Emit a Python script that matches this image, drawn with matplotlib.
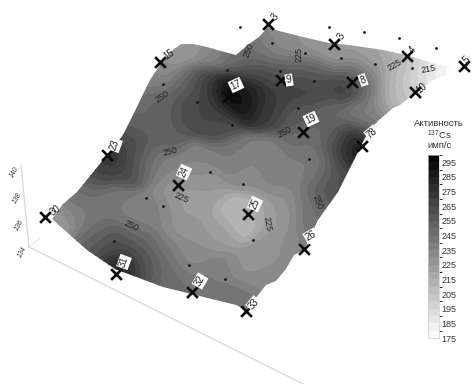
import numpy as np
import matplotlib
matplotlib.use('Agg')
import matplotlib.pyplot as plt
from matplotlib.cm import ScalarMappable
from matplotlib.colors import LinearSegmentedColormap, BoundaryNorm
from matplotlib.patches import Polygon

plt.rcParams['font.family'] = ['Liberation Sans', 'DejaVu Sans']
plt.rcParams['mathtext.fontset'] = 'custom'
plt.rcParams['mathtext.rm'] = 'Liberation Sans'
plt.rcParams['mathtext.default'] = 'rm'

# map outline
edge_x = [181, 193, 207, 217, 236, 249, 259, 268, 279, 303, 329, 349, 383, 406, 423, 432, 450,
          450, 433, 413, 400, 393, 379, 369, 359, 338, 318, 304, 294, 286, 276, 266, 246, 236,
          163, 115, 87, 52, 63, 77, 103, 123, 133, 150, 160, 170]
edge_y = [44, 44, 47, 50, 55, 44, 37, 27, 31, 37, 43, 45, 50, 55, 60, 63, 67,
          73, 80, 95, 105, 108, 120, 130, 150, 192, 220, 250, 255, 269, 281, 285, 310, 305,
          287, 269, 250, 219, 204, 192, 160, 135, 115, 80, 65, 52]
edge_v = [223, 225, 232, 238, 249, 245, 238, 232, 232, 228, 225, 223, 219, 212, 193, 186, 176,
          176, 186, 200, 205, 212, 238, 245, 292, 265, 245, 238, 232, 232, 232, 232, 245, 245,
          249, 285, 249, 219, 238, 245, 272, 254, 249, 238, 232, 225]

# activity read inside the map
in_x = [187, 160, 140, 200, 227, 217, 167, 127, 113, 93, 143, 167, 200, 233, 180, 207,
        253, 286, 336, 369, 396, 253, 286, 319, 353, 376, 396, 416, 246, 269, 286, 319, 349, 369, 389,
        296, 329, 363, 376, 303, 336, 363, 349, 343, 329, 313, 269, 246, 279,
        60, 77, 77, 93, 110, 133, 100, 117, 127, 147, 140, 163, 167, 157, 180, 193, 197, 217, 230, 187, 217, 233,
        249, 269, 286, 309, 326, 269, 246, 279, 249,
        205, 210, 190, 125, 130, 95, 105, 135, 145]
in_y = [83, 107, 117, 100, 95, 123, 133, 147, 153, 173, 157, 167, 160, 157, 187, 187,
        50, 50, 53, 57, 63, 73, 70, 73, 70, 73, 80, 77, 97, 107, 83, 87, 83, 90, 93,
        117, 113, 113, 117, 140, 140, 143, 150, 173, 173, 167, 157, 173, 180,
        222, 215, 195, 225, 199, 215, 249, 242, 269, 265, 242, 252, 279, 212, 229, 259, 285, 275, 299, 205, 232, 215,
        215, 215, 212, 209, 199, 259, 275, 249, 299,
        85, 115, 110, 165, 140, 165, 260, 255, 275]
in_v = [245, 252, 249, 265, 298, 261, 254, 268, 285, 258, 245, 238, 236, 241, 225, 225,
        245, 232, 223, 219, 212, 265, 252, 249, 238, 232, 206, 193, 290, 271, 271, 271, 278, 252, 212,
        258, 249, 238, 238, 245, 252, 295, 275, 265, 249, 238, 238, 232, 236,
        223, 236, 245, 245, 241, 238, 254, 258, 290, 254, 245, 241, 245, 236, 228, 232, 245, 238, 245, 223, 225, 210,
        210, 223, 228, 241, 254, 228, 228, 228, 241,
        272, 268, 262, 262, 262, 268, 275, 265, 260]

# boreholes: cross, label box
well_names = ['15', '3', '3', '4', '5', '10', '17', '9', '8', '19', '78', '23', '24', '25', '26', '30', '31', '32', '33']
well_x = [160, 268, 334, 407, 464, 415, 228, 281, 352, 303, 362, 107, 178, 248, 304, 45, 116, 192, 246]
well_y = [62, 24, 44, 56, 66, 92, 97, 80, 82, 132, 146, 155, 185, 214, 249, 217, 274, 292, 311]
label_x = [169, 275, 341, 413, 466, 422, 236, 289, 363, 311, 372, 115, 184, 255, 311, 55, 124, 200, 254]
label_y = [54, 17, 36, 50, 60, 88, 85, 80, 80, 119, 133, 145, 172, 204, 236, 210, 262, 281, 304]
label_rot = [35, 50, 60, 45, 45, 40, 25, 10, 20, 25, 40, 70, 65, 65, 30, 35, 70, 60, 50]
label_box = [False, False, False, False, False, False, True, True, True, True, True, True, True, True, True, False, True, True, True]

# small sampling dots
dot_x = [163, 197, 227, 232, 210, 240, 329, 364, 399, 436, 272, 305, 341, 375, 412, 280, 314, 298, 309, 243,
         146, 163, 114, 189, 225, 253]
dot_y = [84, 102, 70, 125, 172, 27, 27, 32, 38, 48, 43, 53, 58, 64, 68, 71, 81, 108, 159, 184,
         198, 206, 241, 265, 279, 240]

# contour labels
iso_text = ['250', '250', '225', '250', '225', '250', '250', '225', '250', '225', '215']
iso_x = [162, 170, 181, 131, 267, 317, 285, 299, 249, 395, 429]
iso_y = [97, 152, 198, 226, 224, 202, 132, 55, 50, 65, 69]
iso_rot = [35, 15, -25, -25, -80, -70, 30, 90, 70, 30, 10]

# vertical axis
z_ticks = ['140', '138', '136', '134']
z_x = [14, 17, 19, 22]
z_y = [172, 198, 225, 252]

cbar_levels = np.arange(175, 305, 5)
cbar_ticks = np.arange(175, 305, 10)


def smooth_field(xs, ys, values, gx, gy, width):
    # kernel average of the read values, gives round bands like the kriging map
    w = np.exp(-((gx[..., None] - xs) ** 2 + (gy[..., None] - ys) ** 2) / (2 * width ** 2))
    return (w * values).sum(axis=-1) / (w.sum(axis=-1) + 1e-12)


fig = plt.figure(figsize=(4.72, 3.84), dpi=100)
ax = fig.add_axes([0, 0, 1, 1])
ax.set_xlim(0, 472)
ax.set_ylim(384, 0)
ax.axis('off')

cmap = LinearSegmentedColormap.from_list('act', ['#fbfbfb', '#040404'], N=len(cbar_levels) - 1)
norm = BoundaryNorm(cbar_levels, cmap.N)

# surface
gx, gy = np.meshgrid(np.arange(30, 470, 2.0), np.arange(15, 325, 2.0))
field = smooth_field(np.array(edge_x + in_x, float), np.array(edge_y + in_y, float),
                     np.array(edge_v + in_v, float), gx, gy, 12)
cf = ax.contourf(gx, gy, field, levels=cbar_levels, cmap=cmap, norm=norm, extend='both', zorder=2)
clip = Polygon(np.column_stack([edge_x, edge_y]), closed=True, transform=ax.transData, fc='none', ec='none')
ax.add_patch(clip)
cf.set_clip_path(clip)

# axes lines under the map
ax.plot([21, 29], [165, 247], color='#d8d8d8', lw=0.9, zorder=1)
ax.plot([29, 40], [247, 238], color='#e2e2e2', lw=0.8, zorder=1)
ax.plot([29, 305], [247, 385], color='#d8d8d8', lw=0.9, zorder=1)
for t, x, y in zip(z_ticks, z_x, z_y):
    ax.text(x, y, t, fontsize=5, style='italic', color='#333333', rotation=60, ha='center', va='center', zorder=3)

ax.scatter(dot_x, dot_y, s=4, color='#151515', lw=0, zorder=4)

for t, x, y, r in zip(iso_text, iso_x, iso_y, iso_rot):
    ax.text(x, y, t, fontsize=6.5, color='#222222', rotation=r, ha='center', va='center', zorder=4)

ax.scatter(well_x, well_y, s=60, marker='x', color='#0a0a0a', linewidths=1.9, zorder=5)
for name, x, y, r, box in zip(well_names, label_x, label_y, label_rot, label_box):
    bbox = dict(fc='white', ec='none', pad=0.8) if box else None
    ax.text(x, y, name, fontsize=7, color='#222222', rotation=r, ha='center', va='center', bbox=bbox, zorder=6)

# legend
ax.text(439, 124, 'Активность', fontsize=6.8, color='#333333', ha='center', va='center')
ax.text(439, 135, r'$^{137}$Cs', fontsize=6.8, color='#333333', ha='center', va='center')
ax.text(439, 146, 'имп/с', fontsize=6.8, color='#333333', ha='center', va='center')

cax = fig.add_axes([428 / 472, 1 - 338 / 384, 11 / 472, 183 / 384])
cb = fig.colorbar(ScalarMappable(norm=norm, cmap=cmap), cax=cax, boundaries=cbar_levels, ticks=cbar_ticks,
                  spacing='proportional')
cb.ax.tick_params(length=0, pad=2, labelsize=6.5, labelcolor='#333333')
cb.outline.set_edgecolor('#cccccc')
cb.outline.set_linewidth(0.5)

fig.savefig('out.png', dpi=100)
